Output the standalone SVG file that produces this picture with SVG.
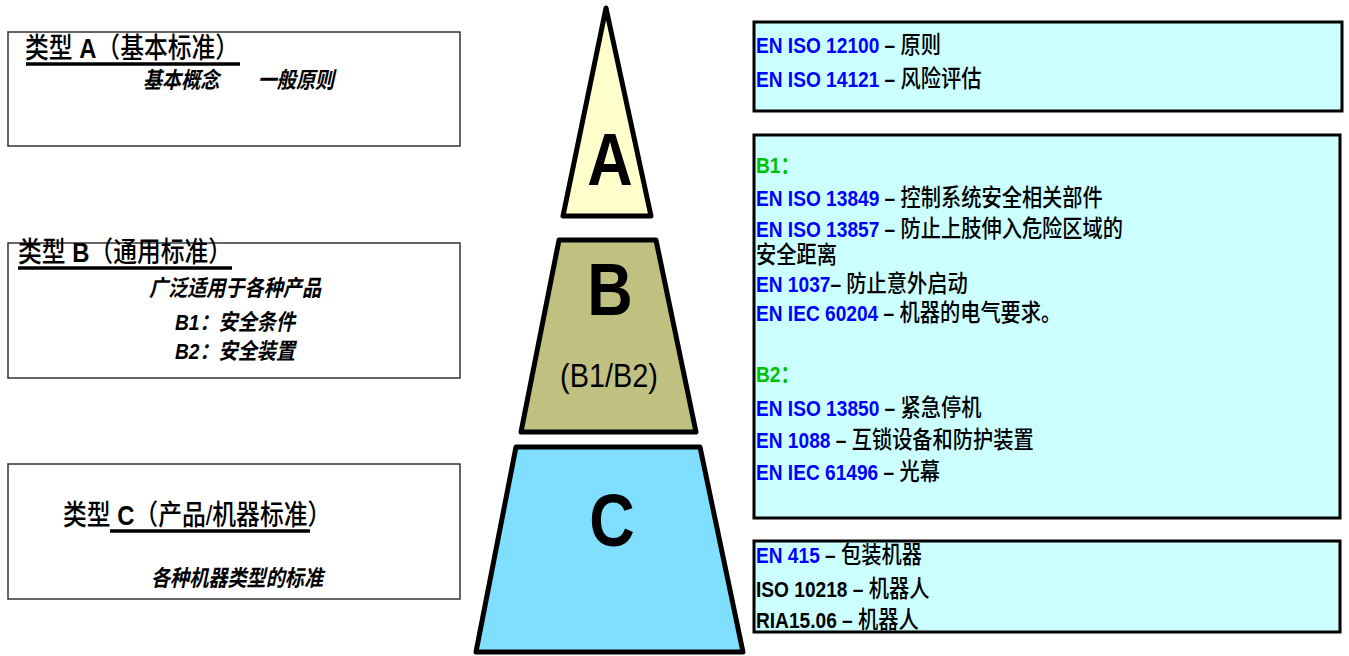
<svg xmlns="http://www.w3.org/2000/svg" width="1349" height="656" viewBox="0 0 1349 656">
<style>
text{font-family:'Liberation Sans','Noto Sans CJK SC',sans-serif;}
.lbox{fill:#fff;stroke:#333;stroke-width:1.5;}
.rbox{fill:#CCFFFF;stroke:#000;stroke-width:3;}
.frame{fill:none;stroke:#000;stroke-width:3;}
.ul{stroke:#000;stroke-width:3.5;}
.title{font-size:28px;font-weight:500;fill:#000;}
.sub{font-size:22.5px;font-style:italic;font-weight:bold;fill:#000;}
.tier{stroke:#000;stroke-width:5;stroke-linejoin:round;}
.big{font-size:74px;font-weight:bold;fill:#000;text-anchor:middle;}
.rt{font-size:22.5px;font-weight:bold;}
.b{fill:#0000FF;}
.k{fill:#000;}
.g{fill:#00C000;}
.c{font-size:23.8px;font-weight:500;fill:#000;}
</style>

<g id="typeA">
<rect class="lbox" x="8" y="32" width="452" height="114"/>
<text class="title" transform="translate(25,58) scale(0.85,1)">类型 <tspan font-weight="bold">A</tspan>（基本标准）</text>
<line class="ul" x1="26" y1="64" x2="240" y2="64"/>
<text class="sub" transform="translate(143,88) scale(0.85,1)">基本概念　　一般原则</text>
</g>

<g id="typeB">
<rect class="lbox" x="8" y="243" width="452" height="135"/>
<text class="title" transform="translate(18,262) scale(0.85,1)">类型 <tspan font-weight="bold">B</tspan>（通用标准）</text>
<line class="ul" x1="18" y1="268" x2="232" y2="268"/>
<text class="sub" text-anchor="middle" transform="translate(235,296) scale(0.85,1)">广泛适用于各种产品</text>
<text class="sub" text-anchor="middle" transform="translate(235,330) scale(0.85,1)">B1：安全条件</text>
<text class="sub" text-anchor="middle" transform="translate(235,359) scale(0.85,1)">B2：安全装置</text>
</g>

<g id="typeC">
<rect class="lbox" x="8" y="464" width="452" height="135"/>
<text class="title" transform="translate(63,525) scale(0.85,1)">类型 <tspan font-weight="bold">C</tspan>（产品/机器标准）</text>
<line class="ul" x1="110" y1="531" x2="310" y2="531"/>
<text class="sub" text-anchor="middle" transform="translate(237,586) scale(0.85,1)">各种机器类型的标准</text>
</g>

<g id="tierA">
<polygon class="tier" fill="#FFFFCC" points="606,8 563,216 651,216"/>
<text class="big" transform="translate(610,185) scale(0.85,1)">A</text>
</g>

<g id="tierB">
<polygon class="tier" fill="#C0C080" points="559,240 656,240 696,432 521,432"/>
<text class="big" transform="translate(610,315) scale(0.85,1)">B</text>
<text font-size="34" fill="#000" text-anchor="middle" transform="translate(609,387) scale(0.85,1)">(B1/B2)</text>
</g>

<g id="tierC">
<polygon class="tier" fill="#80DFFF" points="516,447 700,447 743,652 476,652"/>
<text class="big" font-size="72" transform="translate(612,546) scale(0.85,1)">C</text>
</g>

<g id="listA">
<rect class="rbox" x="754" y="22" width="588" height="89"/>
<g transform="translate(756,0) scale(0.85,1)">
<text class="rt" x="0" y="53"><tspan class="b">EN ISO 12100</tspan><tspan class="k"> – </tspan><tspan class="c">原则</tspan></text>
<text class="rt" x="0" y="87"><tspan class="b">EN ISO 14121</tspan><tspan class="k"> – </tspan><tspan class="c">风险评估</tspan></text>
</g>
</g>

<g id="listB">
<rect class="rbox" x="754" y="135" width="586" height="383"/>
<g transform="translate(756,0) scale(0.85,1)">
<text class="rt g" x="0" y="173">B1：</text>
<text class="rt" x="0" y="206"><tspan class="b">EN ISO 13849</tspan><tspan class="k"> – </tspan><tspan class="c">控制系统安全相关部件</tspan></text>
<text class="rt" x="0" y="237"><tspan class="b">EN ISO 13857</tspan><tspan class="k"> – </tspan><tspan class="c">防止上肢伸入危险区域的</tspan></text>
<text class="rt" x="0" y="263"><tspan class="c">安全距离</tspan></text>
<text class="rt" x="0" y="292"><tspan class="b">EN 1037</tspan><tspan class="k">– </tspan><tspan class="c">防止意外启动</tspan></text>
<text class="rt" x="0" y="321"><tspan class="b">EN IEC 60204</tspan><tspan class="k"> – </tspan><tspan class="c">机器的电气要求。</tspan></text>
<text class="rt g" x="0" y="382">B2：</text>
<text class="rt" x="0" y="416"><tspan class="b">EN ISO 13850</tspan><tspan class="k"> – </tspan><tspan class="c">紧急停机</tspan></text>
<text class="rt" x="0" y="448"><tspan class="b">EN 1088</tspan><tspan class="k"> – </tspan><tspan class="c">互锁设备和防护装置</tspan></text>
<text class="rt" x="0" y="480"><tspan class="b">EN IEC 61496</tspan><tspan class="k"> – </tspan><tspan class="c">光幕</tspan></text>
</g>
</g>

<g id="listC">
<rect fill="#CCFFFF" x="754" y="541" width="586" height="91"/>
<g transform="translate(756,0) scale(0.85,1)">
<text class="rt" x="0" y="563"><tspan class="b">EN 415</tspan><tspan class="k"> – </tspan><tspan class="c">包装机器</tspan></text>
<text class="rt" x="0" y="597"><tspan class="k">ISO 10218 – </tspan><tspan class="c">机器人</tspan></text>
<text class="rt" x="0" y="628"><tspan class="k">RIA15.06 – </tspan><tspan class="c">机器人</tspan></text>
</g>
<rect class="frame" x="754" y="541" width="586" height="91"/>
</g>
</svg>
